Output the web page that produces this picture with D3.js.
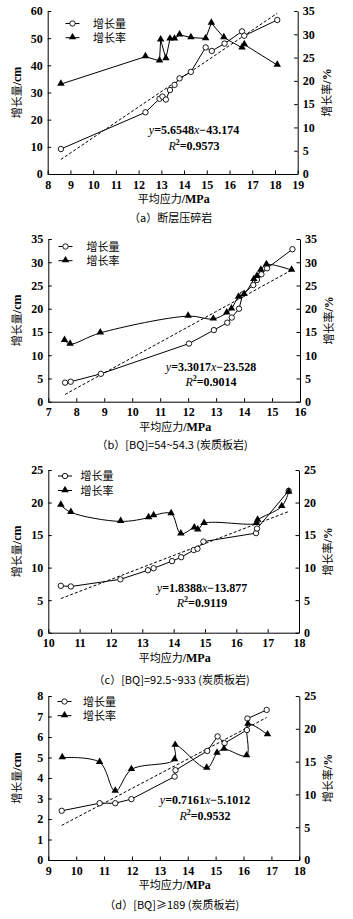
<!DOCTYPE html>
<html>
<head>
<meta charset="UTF-8">
<title></title>
<script src="https://cdn.jsdelivr.net/npm/d3@7/dist/d3.min.js"></script>
<style>
  body { margin: 0; background: #fff; }
  svg { display: block; }
  .num { font-family: "Liberation Serif", "DejaVu Serif", serif; font-size: 12px; font-weight: bold; }
  .cjk { font-family: "Noto Sans CJK SC", sans-serif; font-size: 11px; }
</style>
</head>
<body>
<script>
// (a) 断层压碎岩
var aAmountX = [8.58, 12.3, 12.92, 13.05, 13.2, 13.38, 13.58, 13.8, 14.3, 14.95, 15.22, 15.78, 16.55, 16.65, 18.1];
var aAmount  = [9.2, 22.7, 27.7, 28.5, 27.4, 30.9, 32.8, 35.2, 37.6, 46.6, 45.3, 48.0, 52.5, 50.9, 56.7];
var aRateX   = [8.58, 12.3, 12.92, 12.97, 13.2, 13.38, 13.58, 13.8, 14.3, 14.95, 15.2, 15.75, 16.55, 16.65, 18.1];
var aRate    = [19.3, 25.2, 24.3, 28.8, 24.8, 29.0, 29.0, 29.9, 29.3, 29.1, 32.4, 29.3, 27.1, 27.8, 23.4];
var aFit = [5.6548, -43.174], aR2 = "0.9573";

// (b) [BQ]=54~54.3
var bAmountX = [7.6, 7.8, 8.88, 12.03, 12.92, 13.4, 13.56, 13.82, 13.95, 14.33, 14.46, 14.62, 14.82, 15.73];
var bAmount  = [4.1, 4.3, 6.0, 12.5, 15.4, 17.0, 18.1, 20.0, 23.1, 25.1, 26.2, 27.4, 28.7, 32.8];
var bRateX   = [7.58, 7.78, 8.86, 12.0, 12.9, 13.38, 13.55, 13.8, 14.0, 14.35, 14.46, 14.6, 14.8, 15.7];
var bRate    = [13.2, 12.4, 14.8, 18.4, 17.8, 19.1, 20.0, 22.5, 23.1, 26.3, 27.0, 28.3, 29.5, 28.3];
var bFit = [3.3017, -23.528], bR2 = "0.9014";

// (c) [BQ]=92.5~933
var cAmountX = [10.4, 10.72, 12.3, 13.18, 13.36, 13.95, 14.24, 14.64, 14.76, 14.95, 16.63, 16.66, 17.67];
var cAmount  = [7.2, 7.1, 8.2, 9.6, 9.9, 11.0, 11.6, 12.7, 12.9, 14.0, 15.3, 16.0, 21.8];
var cRateX   = [10.4, 10.72, 12.31, 13.2, 13.36, 13.92, 14.23, 14.66, 14.77, 14.97, 16.64, 16.68, 17.45, 17.67];
var cRate    = [19.6, 18.5, 17.1, 17.7, 18.0, 18.3, 15.2, 16.1, 15.8, 16.8, 16.8, 17.3, 19.4, 21.6];
var cFit = [1.8388, -13.877], cR2 = "0.9119";

// (d) [BQ]≥189
var dAmountX = [9.48, 10.84, 11.4, 11.98, 13.53, 13.56, 14.7, 15.07, 15.32, 16.12, 16.14, 16.83];
var dAmount  = [2.4, 2.77, 2.77, 2.97, 4.07, 4.38, 5.32, 6.03, 5.7, 6.34, 6.9, 7.32];
var dRateX   = [9.5, 10.84, 11.4, 11.98, 13.53, 13.55, 14.68, 15.05, 15.3, 16.11, 16.16, 16.86];
var dRate    = [15.6, 14.9, 10.5, 13.8, 15.3, 17.5, 14.0, 16.3, 16.9, 15.9, 20.7, 19.1];
var dFit = [0.7161, -5.1012], dR2 = "0.9532";

var xTitle = "平均应力/MPa", yLeftTitle = "增长量/cm", yRightTitle = "增长率/%";
var legendNames = ["增长量", "增长率"];

var panels = [
  {ax: aAmountX, ay: aAmount, rx: aRateX, ry: aRate, fit: aFit, r2: aR2,
   xd: [8, 19], xs: 1, ld: [0, 60], ls: 10, rd: [0, 35], rs: 5, smooth: false,
   cap: "（a）断层压碎岩",
   box: {l: 47.7, r: 297.7, t: 11, b: 174}, leg: {x: 72.5, tx: 93, y: 23.5, gap: 14.2},
   eq: {x: 194, y: 134}, capY: 222},
  {ax: bAmountX, ay: bAmount, rx: bRateX, ry: bRate, fit: bFit, r2: bR2,
   xd: [7, 16], xs: 1, ld: [0, 35], ls: 5, rd: [0, 35], rs: 5, smooth: true,
   cap: "（b）[BQ]=54~54.3 (炭质板岩)",
   box: {l: 48.3, r: 300, t: 239, b: 401.7}, leg: {x: 65.5, tx: 86.5, y: 246.5, gap: 14.2},
   eq: {x: 211, y: 370.5}, capY: 449},
  {ax: cAmountX, ay: cAmount, rx: cRateX, ry: cRate, fit: cFit, r2: cR2,
   xd: [10, 18], xs: 1, ld: [0, 25], ls: 5, rd: [0, 25], rs: 5, smooth: true,
   cap: "（c）[BQ]=92.5~933 (炭质板岩)",
   box: {l: 48.3, r: 299, t: 470, b: 632.7}, leg: {x: 65, tx: 80.5, y: 476, gap: 14.5},
   eq: {x: 202, y: 591.5}, capY: 684},
  {ax: dAmountX, ay: dAmount, rx: dRateX, ry: dRate, fit: dFit, r2: dR2,
   xd: [9, 18], xs: 1, ld: [0, 8], ls: 1, rd: [0, 25], rs: 5, smooth: true,
   cap: "（d）[BQ]≥189 (炭质板岩)",
   box: {l: 48.3, r: 299.3, t: 696, b: 860}, leg: {x: 64.5, tx: 83, y: 701.5, gap: 14.2},
   eq: {x: 205, y: 804}, capY: 909}
];

var svg = d3.select("body").append("svg")
  .attr("width", 353).attr("height", 919);

var tri = d3.symbol().type(d3.symbolTriangle).size(24);

panels.forEach(function (p) {
  var B = p.box;
  var x = d3.scaleLinear().domain(p.xd).range([B.l, B.r]);
  var yl = d3.scaleLinear().domain(p.ld).range([B.b, B.t]);
  var yr = d3.scaleLinear().domain(p.rd).range([B.b, B.t]);
  var g = svg.append("g");

  function ticks(d, s) { return d3.range(d[0], d[1] + s / 2, s); }

  var xa = g.append("g").attr("transform", "translate(0," + B.b + ")")
    .call(d3.axisBottom(x).tickValues(ticks(p.xd, p.xs)).tickSizeInner(-3.5).tickSizeOuter(0).tickPadding(6));
  var la = g.append("g").attr("transform", "translate(" + B.l + ",0)")
    .call(d3.axisLeft(yl).tickValues(ticks(p.ld, p.ls)).tickSizeInner(-3.5).tickSizeOuter(0).tickPadding(5));
  var ra = g.append("g").attr("transform", "translate(" + B.r + ",0)")
    .call(d3.axisRight(yr).tickValues(ticks(p.rd, p.rs)).tickSizeInner(-3.5).tickSizeOuter(0).tickPadding(5));
  [xa, la, ra].forEach(function (a) {
    a.attr("font-family", null).attr("font-size", null);
    a.selectAll("text").attr("class", "num").attr("fill", "#000");
    a.selectAll("line").attr("stroke", "#000");
    a.select(".domain").attr("stroke", "#000").attr("stroke-width", 1);
  });

  // fitted line (left axis)
  var fx = d3.extent(p.ax);
  g.append("line")
    .attr("x1", x(fx[0])).attr("y1", yl(p.fit[0] * fx[0] + p.fit[1]))
    .attr("x2", x(fx[1])).attr("y2", yl(p.fit[0] * fx[1] + p.fit[1]))
    .attr("stroke", "#000").attr("stroke-width", 1).attr("stroke-dasharray", "3,2");

  var amt = p.ax.map(function (v, i) { return [v, p.ay[i]]; });
  var rat = p.rx.map(function (v, i) { return [v, p.ry[i]]; });

  g.append("path").datum(amt)
    .attr("fill", "none").attr("stroke", "#000").attr("stroke-width", 1)
    .attr("d", d3.line().x(function (d) { return x(d[0]); }).y(function (d) { return yl(d[1]); }));
  g.append("path").datum(rat)
    .attr("fill", "none").attr("stroke", "#000").attr("stroke-width", 1)
    .attr("d", d3.line().curve(p.smooth ? d3.curveCatmullRom.alpha(0.5) : d3.curveLinear)
      .x(function (d) { return x(d[0]); }).y(function (d) { return yr(d[1]); }));

  g.selectAll(".pc").data(amt).enter().append("circle")
    .attr("cx", function (d) { return x(d[0]); }).attr("cy", function (d) { return yl(d[1]); })
    .attr("r", 2.7).attr("fill", "#fff").attr("stroke", "#000").attr("stroke-width", 0.9);
  g.selectAll(".pt").data(rat).enter().append("path")
    .attr("d", tri)
    .attr("transform", function (d) { return "translate(" + x(d[0]) + "," + (yr(d[1]) - 0.5) + ")"; })
    .attr("fill", "#000");

  // legend
  var L = p.leg;
  [0, 1].forEach(function (k) {
    var yy = L.y + k * L.gap;
    g.append("line").attr("x1", L.x - 7).attr("x2", L.x + 7).attr("y1", yy).attr("y2", yy)
      .attr("stroke", "#000").attr("stroke-width", 1);
    if (k === 0) {
      g.append("circle").attr("cx", L.x).attr("cy", yy).attr("r", 2.7)
        .attr("fill", "#fff").attr("stroke", "#000").attr("stroke-width", 0.9);
    } else {
      g.append("path").attr("d", tri).attr("transform", "translate(" + L.x + "," + (yy - 0.5) + ")").attr("fill", "#000");
    }
    g.append("text").attr("class", "cjk").attr("font-size", "10.5px").attr("x", L.tx).attr("y", yy + 4).text(legendNames[k]);
  });

  // equation
  var e1 = g.append("text").attr("class", "num").attr("x", p.eq.x).attr("y", p.eq.y).attr("text-anchor", "middle");
  e1.append("tspan").attr("font-style", "italic").attr("font-weight", "normal").text("y");
  e1.append("tspan").text("=" + p.fit[0].toFixed(4));
  e1.append("tspan").attr("font-style", "italic").attr("font-weight", "normal").text("x");
  e1.append("tspan").text("−" + Math.abs(p.fit[1]));
  var e2 = g.append("text").attr("class", "num").attr("x", p.eq.x).attr("y", p.eq.y + 15.5).attr("text-anchor", "middle");
  e2.append("tspan").attr("font-style", "italic").attr("font-weight", "normal").text("R");
  e2.append("tspan").attr("font-size", "8px").attr("dy", -5).text("2");
  e2.append("tspan").attr("dy", 5).text("=" + p.r2);

  // axis titles
  var cy = (B.t + B.b) / 2;
  g.append("text").attr("class", "cjk").attr("font-size", "12px").attr("text-anchor", "middle")
    .attr("transform", "translate(" + (B.l - 27) + "," + cy + ") rotate(-90)")
    .html(yLeftTitle.replace("/cm", "<tspan class='num' font-weight='normal'>/cm</tspan>"));
  g.append("text").attr("class", "cjk").attr("font-size", "12px").attr("text-anchor", "middle")
    .attr("transform", "translate(" + (B.r + 33) + "," + cy + ") rotate(-90)")
    .html(yRightTitle.replace("/%", "<tspan class='num' font-weight='normal'>/%</tspan>"));
  g.append("text").attr("class", "cjk").attr("font-size", "12px").attr("text-anchor", "middle")
    .attr("x", (B.l + B.r) / 2 + 1).attr("y", B.b + 29)
    .html(xTitle.replace("/MPa", "<tspan class='num'>/MPa</tspan>"));
  g.append("text").attr("class", "cjk").attr("font-size", "11px").attr("text-anchor", "middle")
    .attr("x", (B.l + B.r) / 2 - 2).attr("y", p.capY).text(p.cap);
});
</script>
</body>
</html>
